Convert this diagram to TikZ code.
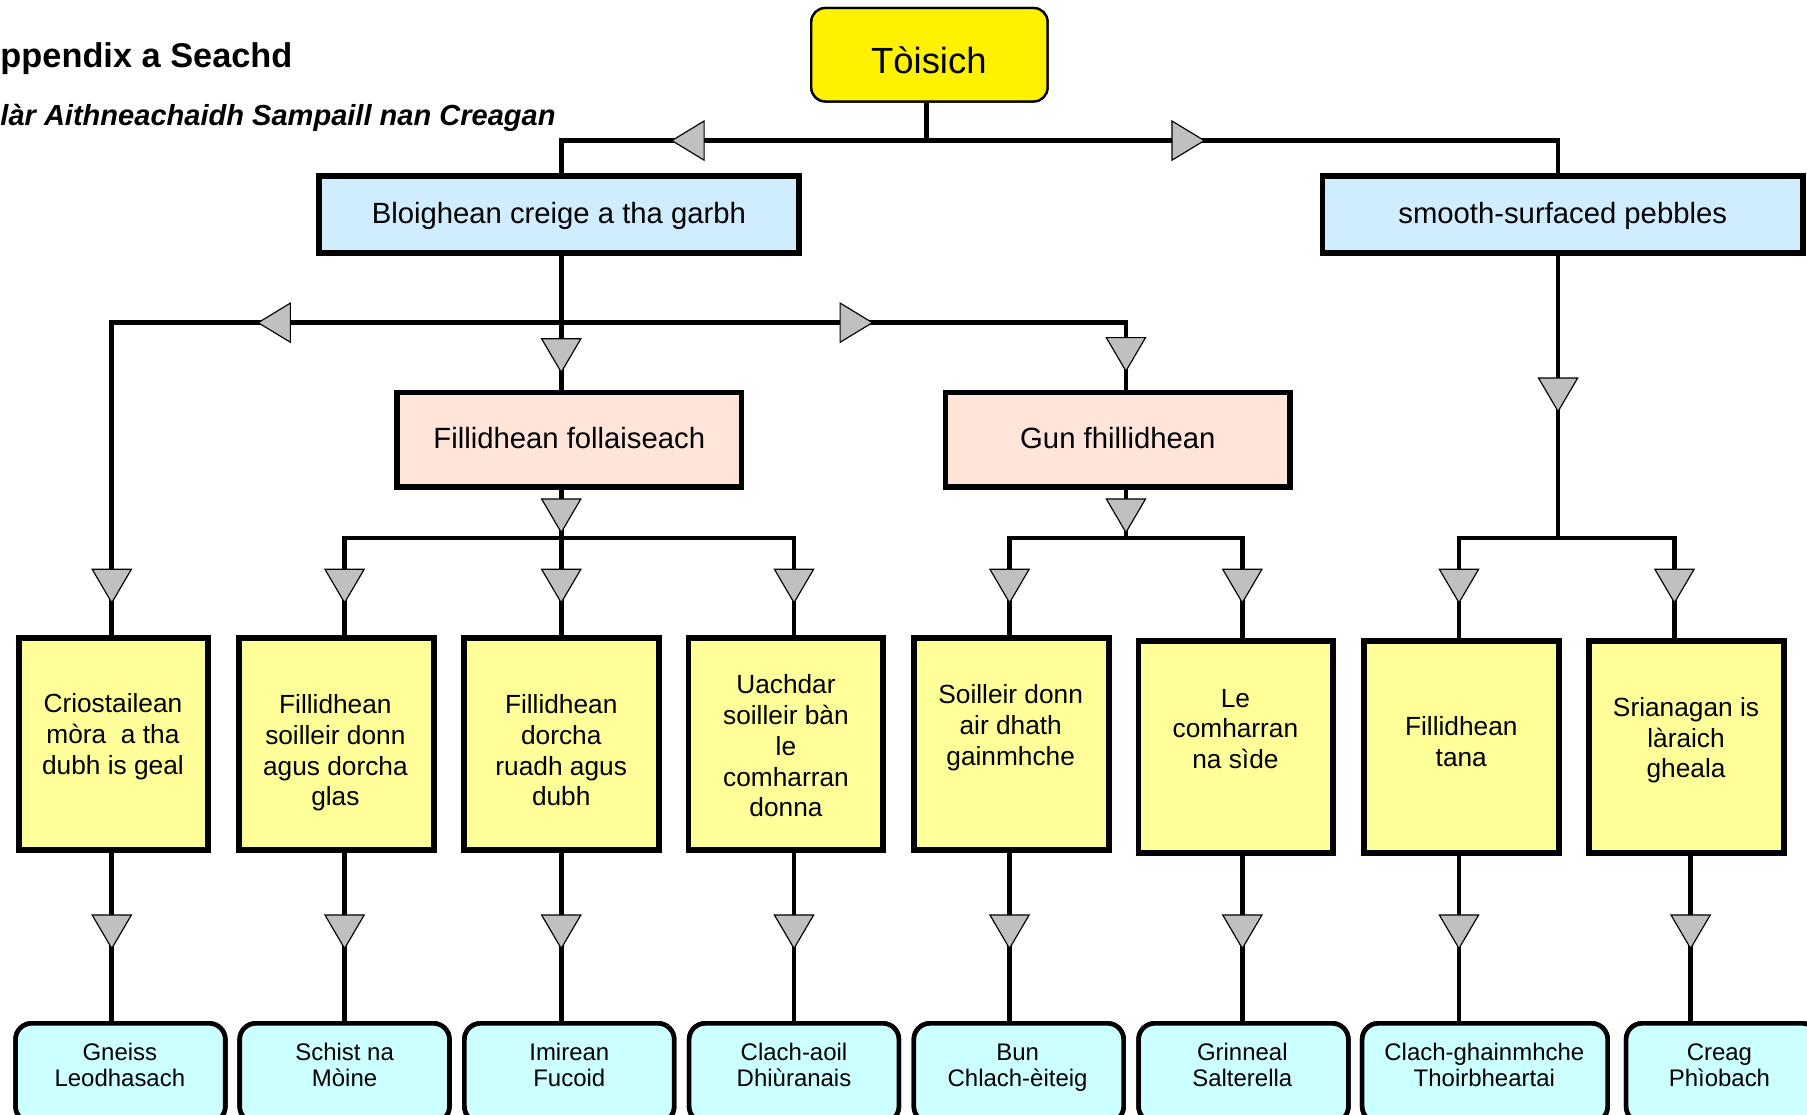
\documentclass[tikz,border=0pt]{standalone}
\usepackage{fontspec}
\setmainfont{Liberation Sans}
\definecolor{triGray}{RGB}{192,192,192}
\definecolor{blueFill}{RGB}{208,236,255}
\definecolor{peachFill}{RGB}{255,228,218}
\definecolor{yelFill}{RGB}{255,255,153}
\definecolor{cyanFill}{RGB}{204,255,255}
\newcommand\mydtri[1]{\filldraw[tri] (#1) ++(-17,-29) -- ++(34,0) -- (#1) -- cycle;}
\newcommand\myltri[1]{\filldraw[tri] (#1) -- ++(28,-17) -- ++(0,34) -- cycle;}
\newcommand\myrtri[1]{\filldraw[tri] (#1) -- ++(-28,-17) -- ++(0,34) -- cycle;}
\begin{document}
\begin{tikzpicture}[x=0.5pt,y=-0.5pt,
  conn/.style={line width=2pt, line join=miter},
  tri/.style={fill=triGray, draw=black, line width=0.5pt, line join=miter},
  toisbox/.style={draw=black, line width=1pt, fill=yellow, rounded corners=6pt, minimum width=102.5pt, minimum height=40.5pt, inner sep=0pt},
  bluebox/.style={draw=black, line width=2.5pt, fill=blueFill, minimum width=208.5pt, minimum height=33.5pt, inner sep=0pt},
  peachbox/.style={draw=black, line width=2.5pt, fill=peachFill, minimum width=149.5pt, minimum height=41pt, inner sep=0pt},
  ybox/.style={draw=black, line width=2.5pt, fill=yelFill, minimum width=84.5pt, minimum height=92pt, inner sep=0pt},
  cbox/.style={draw=black, line width=2pt, fill=cyanFill, rounded corners=7pt, minimum width=91pt, minimum height=43pt, inner sep=0pt},
  txt/.style={inner sep=0pt, align=center},
  bigtxt/.style={txt, font=\fontsize{15.8}{18}\selectfont},
  midtxt/.style={txt, font=\fontsize{12.7}{15}\selectfont},
  ytxt/.style={txt, font=\fontsize{11.4}{13.35}\selectfont},
  btxt/.style={txt, font=\fontsize{10.4}{11.5}\selectfont}
]
\useasboundingbox (0,0) rectangle (1568,967);
\clip (0,0) rectangle (1568,967);

% ---------- titles ----------
\node[inner sep=0pt, anchor=base west, font=\bfseries\fontsize{14.9}{17}\selectfont] (title) at (0,58.5) {ppendix a Seachd};
\node[inner sep=0pt, anchor=base west, font=\bfseries\itshape\fontsize{12.6}{15}\selectfont] (subtitle) at (0,109) {làr Aithneachaidh Sampaill nan Creagan};

% ---------- junction coordinates ----------
\coordinate (a0) at (804,122);
\coordinate (aL) at (487,122);
\coordinate (aR) at (1352,122);
\coordinate (bJ) at (487,280);
\coordinate (bL) at (97,280);
\coordinate (bR) at (977,280);
\coordinate (cJ) at (487,467);
\coordinate (cL) at (299,467);
\coordinate (cR) at (689,467);
\coordinate (dJ) at (977,467);
\coordinate (dL) at (876,467);
\coordinate (dR) at (1078,467);
\coordinate (eJ) at (1352,467);
\coordinate (eL) at (1266,467);
\coordinate (eR) at (1453,467);
\coordinate (f1) at (97,800);
\coordinate (f2) at (299,800);
\coordinate (f3) at (487,800);
\coordinate (f4) at (689,800);
\coordinate (f5) at (876,800);
\coordinate (f6) at (1078,800);
\coordinate (f7) at (1266,800);
\coordinate (f8) at (1467,800);

% ---------- boxes (positions only, for connectors) ----------
\path
  node[toisbox] (tois) at (806.5,47.5) {}
  node[bluebox] (bl) at (485,186) {}
  node[bluebox] (sm) at (1356,186) {}
  node[peachbox] (fo) at (494,381.5) {}
  node[peachbox] (gu) at (970,381.5) {}
  node[ybox, minimum width=82pt] (y1) at (98.5,645.5) {}
  node[ybox] (y2) at (292,645.5) {}
  node[ybox] (y3) at (487,645.5) {}
  node[ybox] (y4) at (682,645.5) {}
  node[ybox] (y5) at (877.5,645.5) {}
  node[ybox] (y6) at (1072.5,648) {}
  node[ybox] (y7) at (1268,648) {}
  node[ybox] (y8) at (1463.5,648) {}
  node[cbox] (b1) at (104.5,931) {}
  node[cbox] (b2) at (299,931) {}
  node[cbox] (b3) at (494,931) {}
  node[cbox] (b4) at (689,931) {}
  node[cbox] (b5) at (884,931) {}
  node[cbox] (b6) at (1079,931) {}
  node[cbox, minimum width=106.5pt] (b7) at (1288.5,931) {}
  node[cbox, minimum width=83.5pt] (b8) at (1494.5,931) {};

% ---------- connectors ----------
\draw[conn] (a0 |- tois.south) -- (a0);
\draw[conn] (aL |- bl.north) -- (aL) -- (aR) -- (aR |- sm.north);
\draw[conn] (bJ |- bl.south) -- (bJ |- fo.north);
\draw[conn] (bL |- y1.north) -- (bL) -- (bR) -- (bR |- gu.north);
\draw[conn] (cJ |- fo.south) -- (cJ |- y3.north);
\draw[conn] (cL |- y2.north) -- (cL) -- (cR) -- (cR |- y4.north);
\draw[conn] (dJ |- gu.south) -- (dJ);
\draw[conn] (dL |- y5.north) -- (dL) -- (dR) -- (dR |- y6.north);
\draw[conn] (eJ |- sm.south) -- (eJ);
\draw[conn] (eL |- y7.north) -- (eL) -- (eR) -- (eR |- y8.north);
\draw[conn] (f1 |- y1.south) -- (f1 |- b1.north);
\draw[conn] (f2 |- y2.south) -- (f2 |- b2.north);
\draw[conn] (f3 |- y3.south) -- (f3 |- b3.north);
\draw[conn] (f4 |- y4.south) -- (f4 |- b4.north);
\draw[conn] (f5 |- y5.south) -- (f5 |- b5.north);
\draw[conn] (f6 |- y6.south) -- (f6 |- b6.north);
\draw[conn] (f7 |- y7.south) -- (f7 |- b7.north);
\draw[conn] (f8 |- y8.south) -- (f8 |- b8.north);

% ---------- boxes drawn over connectors ----------
\node[toisbox] at (tois) {};
\node[bluebox] at (bl) {};
\node[bluebox] at (sm) {};
\node[peachbox] at (fo) {};
\node[peachbox] at (gu) {};
\node[ybox, minimum width=82pt] at (y1) {};
\node[ybox] at (y2) {};
\node[ybox] at (y3) {};
\node[ybox] at (y4) {};
\node[ybox] at (y5) {};
\node[ybox] at (y6) {};
\node[ybox] at (y7) {};
\node[ybox] at (y8) {};
\node[cbox] at (b1) {};
\node[cbox] at (b2) {};
\node[cbox] at (b3) {};
\node[cbox] at (b4) {};
\node[cbox] at (b5) {};
\node[cbox] at (b6) {};
\node[cbox, minimum width=106.5pt] at (b7) {};
\node[cbox, minimum width=83.5pt] at (b8) {};

% ---------- arrowheads ----------
\myltri{583,122}
\myrtri{1045,122}
\myltri{224,280}
\myrtri{757,280}
\mydtri{487,323}
\mydtri{977,322}
\mydtri{487,462}
\mydtri{977,462}
\mydtri{1352,357}
\foreach \xx in {97,299,487,689,876,1078,1266,1453} {\mydtri{\xx,523}}
\foreach \xx in {97,299,487,689,876,1078,1266,1467} {\mydtri{\xx,823}}

% ---------- texts ----------
\node[bigtxt, anchor=base] (toisT) at (806,63.5) {Tòisich};
\node[midtxt, anchor=base] (blT) at (485,194) {Bloighean creige a tha garbh};
\node[midtxt, anchor=base] (smT) at (1356,194) {smooth-surfaced pebbles};
\node[midtxt, anchor=base] (foT) at (494,389) {Fillidhean follaiseach};
\node[midtxt, anchor=base] (guT) at (970,389) {Gun fhillidhean};

\node[ytxt] (y1T) at (98,640) {\strut Criostailean\\mòra~ a tha\\dubh is geal\strut};
\node[ytxt] (y2T) at (291,654) {\strut Fillidhean\\soilleir donn\\agus dorcha\\glas\strut};
\node[ytxt] (y3T) at (487,654) {\strut Fillidhean\\dorcha\\ruadh agus\\dubh\strut};
\node[ytxt] (y4T) at (682,650) {\strut Uachdar\\soilleir bàn\\le\\comharran\\donna\strut};
\node[ytxt] (y5T) at (877,632) {\strut Soilleir donn\\air dhath\\gainmhche\strut};
\node[ytxt] (y6T) at (1072,635) {\strut Le\\comharran\\na sìde\strut};
\node[ytxt] (y7T) at (1268,646) {\strut Fillidhean\\tana\strut};
\node[ytxt] (y8T) at (1463,643) {\strut Srianagan is\\làraich\\gheala\strut};

\node[btxt] (b1T) at (104,927) {\strut Gneiss\\Leodhasach\strut};
\node[btxt] (b2T) at (299,927) {\strut Schist na\\Mòine\strut};
\node[btxt] (b3T) at (494,927) {\strut Imirean\\Fucoid\strut};
\node[btxt] (b4T) at (689,927) {\strut Clach-aoil\\Dhiùranais\strut};
\node[btxt] (b5T) at (883,927) {\strut Bun\\Chlach-èiteig\strut};
\node[btxt] (b6T) at (1078,927) {\strut Grinneal\\Salterella\strut};
\node[btxt] (b7T) at (1288,927) {\strut Clach-ghainmhche\\Thoirbheartai\strut};
\node[btxt] (b8T) at (1492,927) {\strut Creag\\Phìobach\strut};
\end{tikzpicture}
\end{document}
